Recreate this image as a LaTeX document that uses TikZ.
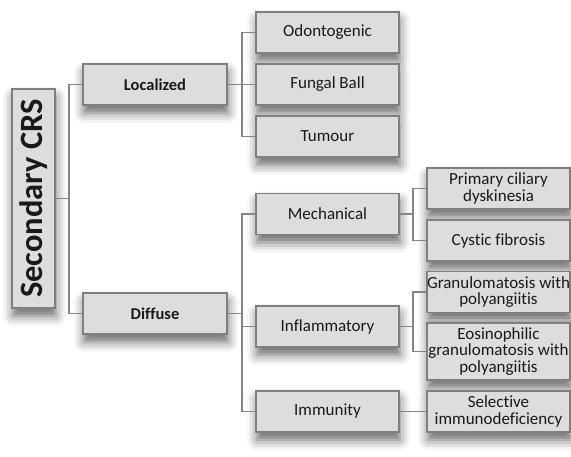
\documentclass[tikz,border=0pt]{standalone}
\usepackage{fontspec}
\setmainfont{Carlito}[Ligatures=NoCommon]
\usetikzlibrary{shadows.blur}
\definecolor{boxfill}{HTML}{DDDDDD}
\definecolor{boxline}{HTML}{7F7F7F}
\definecolor{conn}{HTML}{858585}
\tikzset{
  box/.style={draw=boxline, fill=boxfill, line width=1.4pt, minimum width=143pt, minimum height=41pt,
    inner sep=0pt, align=center, text=black!90,
    font=\fontsize{17}{16.8}\selectfont,
    blur shadow={shadow xshift=1pt, shadow yshift=-8pt, shadow blur radius=10pt, shadow opacity=60}},
  bbox/.style={box, font=\fontsize{16.5}{17}\selectfont\bfseries, minimum width=144pt},
  conline/.style={draw=conn, line width=1.5pt}
}
\begin{document}
\begin{tikzpicture}[x=1pt,y=-1pt]
\useasboundingbox (0,0) rectangle (571,456);
% root
\node[box, minimum width=43pt, minimum height=219pt, font=\fontsize{32.5}{32.5}\selectfont\bfseries] (root) at (33.5,198.5) {\rotatebox{90}{Secondary CRS}};
% level 1
\node[bbox] (loc) at (155,84.5) {Localized};
\node[bbox] (dif) at (155,313.5) {Diffuse};
% level 2
\node[box] (odo) at (327.5,32.5) {Odontogenic};
\node[box] (fun) at (327.5,84.5) {Fungal Ball};
\node[box] (tum) at (327.5,136.5) {Tumour};
\node[box] (mec) at (327.5,214) {Mechanical};
\node[box] (inf) at (327.5,326.5) {Inflammatory};
\node[box] (imm) at (327.5,411.5) {Immunity};
% level 3
\node[box] (pcd) at (498.5,188.5) {Primary ciliary\\dyskinesia};
\node[box] (cfi) at (498.5,240.5) {Cystic fibrosis};
\node[box] (gpa) at (498.5,292) {Granulomatosis with\\polyangiitis};
\node[box, minimum height=57pt] (egp) at (498.5,351.5) {Eosinophilic\\granulomatosis with\\polyangiitis};
\node[box] (sid) at (498.5,411.5) {Selective\\immunodeficiency};
% junctions
\coordinate (j1) at (69,0);
\coordinate (j2) at (242,0);
\coordinate (j3) at (413,0);
% connectors
\draw[conline] (root.east) -- (root.east -| j1);
\draw[conline] (loc.west) -- (loc.west -| j1) -- (dif.west -| j1) -- (dif.west);
\draw[conline] (loc.east) -- (fun.west);
\draw[conline] (odo.west) -- (odo.west -| j2) -- (tum.west -| j2) -- (tum.west);
\draw[conline] (dif.east) -- (dif.east -| j2);
\draw[conline] (mec.west) -- (mec.west -| j2) -- (imm.west -| j2) -- (imm.west);
\draw[conline] (inf.west) -- (inf.west -| j2);
\draw[conline] (mec.east) -- (mec.east -| j3);
\draw[conline] (pcd.west) -- (pcd.west -| j3) -- (cfi.west -| j3) -- (cfi.west);
\draw[conline] (inf.east) -- (inf.east -| j3);
\draw[conline] (gpa.west) -- (gpa.west -| j3) -- (egp.west -| j3) -- (egp.west);
\draw[conline] (imm.east) -- (sid.west);
\end{tikzpicture}
\end{document}
